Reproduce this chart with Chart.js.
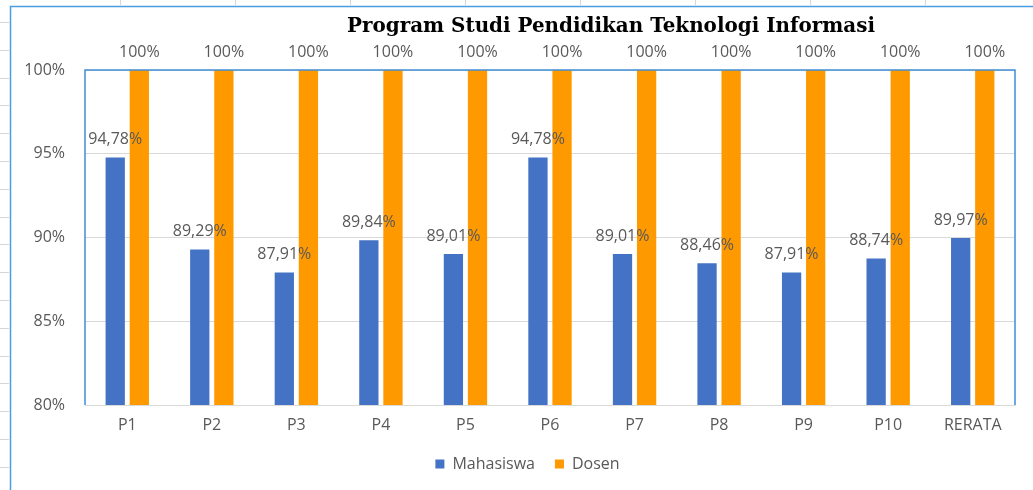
<!DOCTYPE html>
<html>
<head>
<meta charset="utf-8">
<script src="https://cdn.jsdelivr.net/npm/chart.js@4.4.1/dist/chart.umd.min.js"></script>
<style>
  html, body { margin: 0; padding: 0; background: #ffffff; }
  #wrap { width: 1033px; height: 490px; position: relative; }
</style>
</head>
<body>
<div id="wrap"><canvas id="c" width="1033" height="490"></canvas></div>
<script>
const chartTitle = 'Program Studi Pendidikan Teknologi Informasi';
const categories = ['P1', 'P2', 'P3', 'P4', 'P5', 'P6', 'P7', 'P8', 'P9', 'P10', 'RERATA'];
const mahasiswa = [94.78, 89.29, 87.91, 89.84, 89.01, 94.78, 89.01, 88.46, 87.91, 88.74, 89.97];
const dosen = [100, 100, 100, 100, 100, 100, 100, 100, 100, 100, 100];
const seriesNames = ['Mahasiswa', 'Dosen'];
const yTicks = [80, 85, 90, 95, 100];

const textColor = '#595959';
const fontFamily = '"Open Sans", "Liberation Sans", sans-serif';
const titleFont = '"DejaVu Serif", "Liberation Serif", serif';

function fmtPct(v) {
  if (Number.isInteger(v)) return v + '%';
  return v.toFixed(2).replace('.', ',') + '%';
}

const decorPlugin = {
  id: 'decor',
  afterLayout(chart) {
    const lg = chart.legend;
    if (lg) { lg.left += 40; }
  },
  beforeDraw(chart) {
    const ctx = chart.ctx;
    ctx.save();
    ctx.fillStyle = '#ffffff';
    ctx.fillRect(0, 0, chart.width, chart.height);
    ctx.strokeStyle = '#d6d6d6';
    ctx.lineWidth = 1;
    for (let y = 22; y < chart.height; y += 27.8) {
      ctx.beginPath(); ctx.moveTo(0, Math.round(y) + 0.5); ctx.lineTo(9, Math.round(y) + 0.5); ctx.stroke();
    }
    for (let x = 120; x < chart.width; x += 115) {
      ctx.beginPath(); ctx.moveTo(Math.round(x) + 0.5, 0); ctx.lineTo(Math.round(x) + 0.5, 5); ctx.stroke();
    }
    ctx.strokeStyle = '#4a9de0';
    ctx.lineWidth = 1.5;
    ctx.beginPath();
    ctx.moveTo(10.5, chart.height);
    ctx.lineTo(10.5, 6.5);
    ctx.lineTo(chart.width, 6.5);
    ctx.stroke();
    ctx.restore();
  },
  afterDraw(chart) {
    const ctx = chart.ctx;
    const a = chart.chartArea;
    ctx.save();
    ctx.strokeStyle = '#3f8fd6';
    ctx.lineWidth = 1.5;
    ctx.beginPath();
    ctx.moveTo(a.left, a.bottom);
    ctx.lineTo(a.left, a.top);
    ctx.lineTo(a.right, a.top);
    ctx.lineTo(a.right, a.bottom);
    ctx.stroke();
    ctx.fillStyle = '#000000';
    ctx.font = 'bold 20px ' + titleFont;
    const w = ctx.measureText(chartTitle).width;
    const size = 20 * 528 / w;
    ctx.font = 'bold ' + size.toFixed(2) + 'px ' + titleFont;
    ctx.textAlign = 'center';
    ctx.textBaseline = 'alphabetic';
    ctx.fillText(chartTitle, 611, 32);
    ctx.restore();
  }
};

const labelPlugin = {
  id: 'valueLabels',
  afterDatasetsDraw(chart) {
    const ctx = chart.ctx;
    ctx.save();
    ctx.fillStyle = textColor;
    ctx.font = '16px ' + fontFamily;
    ctx.textAlign = 'center';
    ctx.textBaseline = 'middle';
    chart.data.datasets.forEach((ds, di) => {
      const meta = chart.getDatasetMeta(di);
      meta.data.forEach((el, i) => {
        ctx.fillText(fmtPct(ds.data[i]), el.x, el.y - 18);
      });
    });
    ctx.restore();
  }
};

new Chart(document.getElementById('c'), {
  type: 'bar',
  data: {
    labels: categories,
    datasets: [
      { label: seriesNames[0], data: mahasiswa, backgroundColor: '#4472c4', categoryPercentage: 0.57, barPercentage: 0.8 },
      { label: seriesNames[1], data: dosen, backgroundColor: '#ff9900', categoryPercentage: 0.57, barPercentage: 0.8 }
    ]
  },
  options: {
    responsive: false,
    animation: false,
    devicePixelRatio: 1,
    layout: { padding: { left: 0, right: 18, top: 70, bottom: 8 } },
    plugins: {
      title: { display: false },
      tooltip: { enabled: false },
      legend: {
        position: 'bottom',
        labels: {
          boxWidth: 9, boxHeight: 9, padding: 20,
          color: textColor,
          font: { family: fontFamily, size: 16 }
        }
      }
    },
    scales: {
      x: {
        grid: { display: false, drawTicks: false },
        border: { display: true, color: '#d9d9d9', width: 1 },
        ticks: { color: textColor, font: { family: fontFamily, size: 16 }, padding: 11 },
        afterFit(s) { s.height = 31; }
      },
      y: {
        min: 80, max: 100,
        afterBuildTicks(s) { s.ticks = yTicks.map(v => ({ value: v })); },
        grid: { color: '#d9d9d9', drawTicks: false },
        border: { display: false },
        ticks: { color: textColor, font: { family: fontFamily, size: 16 }, padding: 20, callback: v => v + '%' },
        afterFit(s) { s.width = 85; }
      }
    }
  },
  plugins: [decorPlugin, labelPlugin]
});
</script>
</body>
</html>
